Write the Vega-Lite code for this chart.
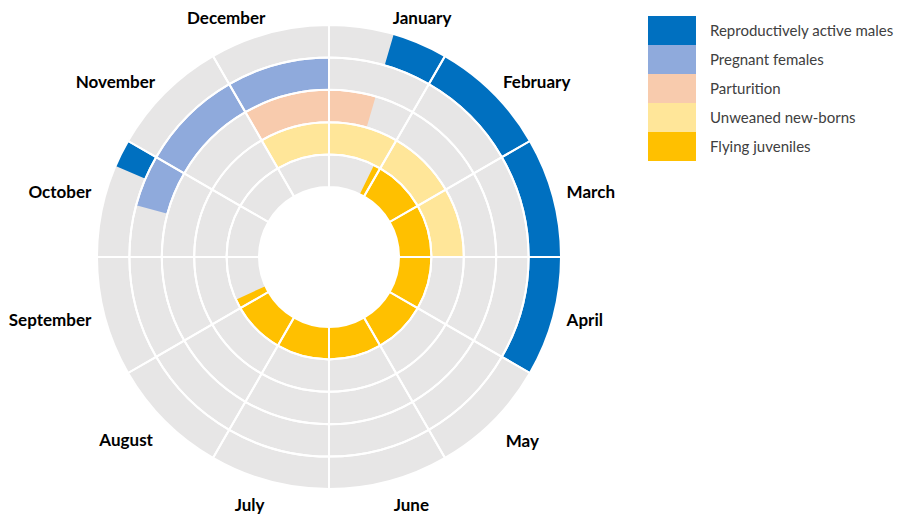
{
  "$schema": "https://vega.github.io/schema/vega-lite/v6.json",
  "width": 648,
  "height": 504,
  "padding": {"left": 5, "top": 5, "right": 5, "bottom": 0},
  "autosize": {"type": "pad"},
  "background": "white",
  "config": {"view": {"stroke": null}, "font": "Lato"},
  "datasets": {
    "grid": [
      {"start":0,"end":1,"r0":0,"r1":1},{"start":0,"end":1,"r0":1,"r1":2},{"start":0,"end":1,"r0":2,"r1":3},{"start":0,"end":1,"r0":3,"r1":4},{"start":0,"end":1,"r0":4,"r1":5},
      {"start":1,"end":2,"r0":0,"r1":1},{"start":1,"end":2,"r0":1,"r1":2},{"start":1,"end":2,"r0":2,"r1":3},{"start":1,"end":2,"r0":3,"r1":4},{"start":1,"end":2,"r0":4,"r1":5},
      {"start":2,"end":3,"r0":0,"r1":1},{"start":2,"end":3,"r0":1,"r1":2},{"start":2,"end":3,"r0":2,"r1":3},{"start":2,"end":3,"r0":3,"r1":4},{"start":2,"end":3,"r0":4,"r1":5},
      {"start":3,"end":4,"r0":0,"r1":1},{"start":3,"end":4,"r0":1,"r1":2},{"start":3,"end":4,"r0":2,"r1":3},{"start":3,"end":4,"r0":3,"r1":4},{"start":3,"end":4,"r0":4,"r1":5},
      {"start":4,"end":5,"r0":0,"r1":1},{"start":4,"end":5,"r0":1,"r1":2},{"start":4,"end":5,"r0":2,"r1":3},{"start":4,"end":5,"r0":3,"r1":4},{"start":4,"end":5,"r0":4,"r1":5},
      {"start":5,"end":6,"r0":0,"r1":1},{"start":5,"end":6,"r0":1,"r1":2},{"start":5,"end":6,"r0":2,"r1":3},{"start":5,"end":6,"r0":3,"r1":4},{"start":5,"end":6,"r0":4,"r1":5},
      {"start":6,"end":7,"r0":0,"r1":1},{"start":6,"end":7,"r0":1,"r1":2},{"start":6,"end":7,"r0":2,"r1":3},{"start":6,"end":7,"r0":3,"r1":4},{"start":6,"end":7,"r0":4,"r1":5},
      {"start":7,"end":8,"r0":0,"r1":1},{"start":7,"end":8,"r0":1,"r1":2},{"start":7,"end":8,"r0":2,"r1":3},{"start":7,"end":8,"r0":3,"r1":4},{"start":7,"end":8,"r0":4,"r1":5},
      {"start":8,"end":9,"r0":0,"r1":1},{"start":8,"end":9,"r0":1,"r1":2},{"start":8,"end":9,"r0":2,"r1":3},{"start":8,"end":9,"r0":3,"r1":4},{"start":8,"end":9,"r0":4,"r1":5},
      {"start":9,"end":10,"r0":0,"r1":1},{"start":9,"end":10,"r0":1,"r1":2},{"start":9,"end":10,"r0":2,"r1":3},{"start":9,"end":10,"r0":3,"r1":4},{"start":9,"end":10,"r0":4,"r1":5},
      {"start":10,"end":11,"r0":0,"r1":1},{"start":10,"end":11,"r0":1,"r1":2},{"start":10,"end":11,"r0":2,"r1":3},{"start":10,"end":11,"r0":3,"r1":4},{"start":10,"end":11,"r0":4,"r1":5},
      {"start":11,"end":12,"r0":0,"r1":1},{"start":11,"end":12,"r0":1,"r1":2},{"start":11,"end":12,"r0":2,"r1":3},{"start":11,"end":12,"r0":3,"r1":4},{"start":11,"end":12,"r0":4,"r1":5}
    ],
    "periods": [
      {"stage":"Flying juveniles","month":"January","start":0.87,"end":1,"r0":0,"r1":1},
      {"stage":"Flying juveniles","month":"February","start":1,"end":2,"r0":0,"r1":1},
      {"stage":"Flying juveniles","month":"March","start":2,"end":3,"r0":0,"r1":1},
      {"stage":"Flying juveniles","month":"April","start":3,"end":4,"r0":0,"r1":1},
      {"stage":"Flying juveniles","month":"May","start":4,"end":5,"r0":0,"r1":1},
      {"stage":"Flying juveniles","month":"June","start":5,"end":6,"r0":0,"r1":1},
      {"stage":"Flying juveniles","month":"July","start":6,"end":7,"r0":0,"r1":1},
      {"stage":"Flying juveniles","month":"August","start":7,"end":8,"r0":0,"r1":1},
      {"stage":"Flying juveniles","month":"September","start":8,"end":8.18,"r0":0,"r1":1},
      {"stage":"Unweaned new-borns","month":"December","start":11,"end":12,"r0":1,"r1":2},
      {"stage":"Unweaned new-borns","month":"January","start":0,"end":1,"r0":1,"r1":2},
      {"stage":"Unweaned new-borns","month":"February","start":1,"end":2,"r0":1,"r1":2},
      {"stage":"Unweaned new-borns","month":"March","start":2,"end":3,"r0":1,"r1":2},
      {"stage":"Parturition","month":"December","start":11,"end":12,"r0":2,"r1":3},
      {"stage":"Parturition","month":"January","start":0,"end":0.54,"r0":2,"r1":3},
      {"stage":"Pregnant females","month":"October","start":9.5,"end":10,"r0":3,"r1":4},
      {"stage":"Pregnant females","month":"November","start":10,"end":11,"r0":3,"r1":4},
      {"stage":"Pregnant females","month":"December","start":11,"end":12,"r0":3,"r1":4},
      {"stage":"Reproductively active males","month":"October","start":9.77,"end":10,"r0":4,"r1":5},
      {"stage":"Reproductively active males","month":"January","start":0.54,"end":1,"r0":4,"r1":5},
      {"stage":"Reproductively active males","month":"February","start":1,"end":2,"r0":4,"r1":5},
      {"stage":"Reproductively active males","month":"March","start":2,"end":3,"r0":4,"r1":5},
      {"stage":"Reproductively active males","month":"April","start":3,"end":4,"r0":4,"r1":5}
    ],
    "months": [
      {"month":"January","mid":0.5},
      {"month":"February","mid":1.5},
      {"month":"March","mid":2.5},
      {"month":"April","mid":3.5},
      {"month":"May","mid":4.5},
      {"month":"June","mid":5.5},
      {"month":"July","mid":6.5},
      {"month":"August","mid":7.5},
      {"month":"September","mid":8.5},
      {"month":"October","mid":9.5},
      {"month":"November","mid":10.5},
      {"month":"December","mid":11.5}
    ]
  },
  "layer": [
    {
      "data": {"name": "grid"},
      "mark": {"type": "arc", "fill": "#e7e6e6", "stroke": null},
      "encoding": {
        "theta": {"field": "start", "type": "quantitative", "stack": null, "scale": {"domain": [0, 12], "range": [0, 6.283185307179586]}},
        "theta2": {"field": "end"},
        "radius": {"field": "r0", "type": "quantitative", "scale": {"type": "linear", "domain": [0, 5], "range": [70, 232], "zero": false}},
        "radius2": {"field": "r1"}
      }
    },
    {
      "data": {"name": "periods"},
      "mark": {"type": "arc", "stroke": null},
      "encoding": {
        "theta": {"field": "start", "type": "quantitative", "stack": null},
        "theta2": {"field": "end"},
        "radius": {"field": "r0", "type": "quantitative"},
        "radius2": {"field": "r1"},
        "color": {
          "field": "stage", "type": "nominal",
          "scale": {
            "domain": ["Reproductively active males", "Pregnant females", "Parturition", "Unweaned new-borns", "Flying juveniles"],
            "range": ["#0070c0", "#8faadc", "#f8cbad", "#ffe699", "#ffc000"]
          },
          "legend": {
            "orient": "none", "legendX": 643, "legendY": 11, "title": null,
            "symbolType": "M-1,-1H2.31V1H-1Z", "symbolSize": 841, "symbolStrokeWidth": 0, "symbolOpacity": 1,
            "labelFont": "Lato", "labelFontSize": 15, "labelColor": "#404040", "labelOffset": 33,
            "labelLimit": 400, "rowPadding": 0, "padding": 0
          }
        }
      }
    },
    {
      "data": {"name": "grid"},
      "mark": {"type": "arc", "fillOpacity": 0, "stroke": "white", "strokeWidth": 2},
      "encoding": {
        "theta": {"field": "start", "type": "quantitative", "stack": null},
        "theta2": {"field": "end"},
        "radius": {"field": "r0", "type": "quantitative"},
        "radius2": {"field": "r1"}
      }
    },
    {
      "data": {"name": "months"},
      "transform": [{"filter": "datum.mid < 4"}],
      "mark": {"type": "text", "radius": 246, "align": "left", "baseline": "middle", "font": "Lato", "fontSize": 17, "fontWeight": "bold", "color": "#000000"},
      "encoding": {
        "theta": {"field": "mid", "type": "quantitative", "stack": null},
        "text": {"field": "month"}
      }
    },
    {
      "data": {"name": "months"},
      "transform": [{"filter": "datum.mid > 4 && datum.mid < 6"}],
      "mark": {"type": "text", "radius": 250, "align": "left", "baseline": "top", "font": "Lato", "fontSize": 17, "fontWeight": "bold", "color": "#000000"},
      "encoding": {
        "theta": {"field": "mid", "type": "quantitative", "stack": null},
        "text": {"field": "month"}
      }
    },
    {
      "data": {"name": "months"},
      "transform": [{"filter": "datum.mid > 6 && datum.mid < 8"}],
      "mark": {"type": "text", "radius": 249, "align": "right", "baseline": "top", "font": "Lato", "fontSize": 17, "fontWeight": "bold", "color": "#000000"},
      "encoding": {
        "theta": {"field": "mid", "type": "quantitative", "stack": null},
        "text": {"field": "month"}
      }
    },
    {
      "data": {"name": "months"},
      "transform": [{"filter": "datum.mid > 8"}],
      "mark": {"type": "text", "radius": 246, "align": "right", "baseline": "middle", "font": "Lato", "fontSize": 17, "fontWeight": "bold", "color": "#000000"},
      "encoding": {
        "theta": {"field": "mid", "type": "quantitative", "stack": null},
        "text": {"field": "month"}
      }
    }
  ]
}
